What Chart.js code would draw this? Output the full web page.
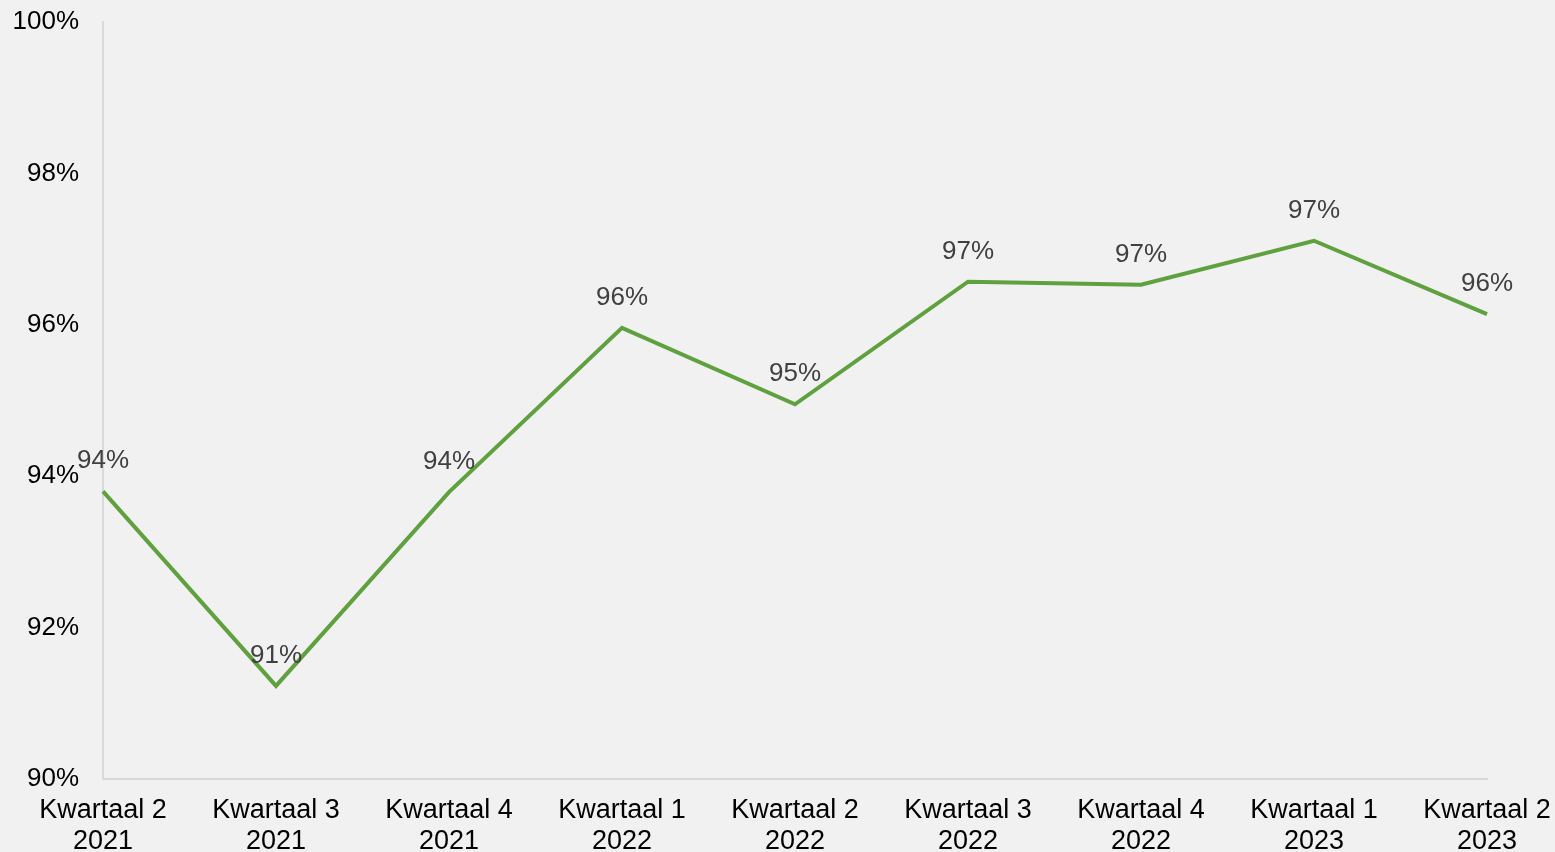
<!DOCTYPE html>
<html>
<head>
<meta charset="utf-8">
<script src="https://cdn.jsdelivr.net/npm/chart.js@4/dist/chart.umd.min.js"></script>
<style>
    html, body { margin: 0; padding: 0; background: #f1f1f1; overflow: hidden; }
    #wrap { width: 1555px; height: 852px; }
</style>
</head>
<body>
<div id="wrap"><canvas id="Chart_Kwartaal" width="1555" height="852"></canvas></div>
<script>
// data van de grafiek
var kwartalen = ['Kwartaal 2', 'Kwartaal 3', 'Kwartaal 4', 'Kwartaal 1', 'Kwartaal 2', 'Kwartaal 3', 'Kwartaal 4', 'Kwartaal 1', 'Kwartaal 2'];
var jaren = ['2021', '2021', '2021', '2022', '2022', '2022', '2022', '2023', '2023'];
var percentages = [93.8, 91.23, 93.79, 95.96, 94.95, 96.57, 96.53, 97.11, 96.14];
var yMin = 90, yMax = 100, yStap = 2;

var labels = kwartalen.map(function (k, i) {
    return [k, jaren[i]];
});

// plugin: achtergrond
const bgPlugin = {
    id: 'achtergrond',
    beforeDraw: (chart) => {
        const ctx = chart.ctx;
        ctx.save();
        ctx.globalCompositeOperation = 'destination-over';
        ctx.fillStyle = '#f1f1f1';
        ctx.fillRect(0, 0, chart.width, chart.height);
        ctx.restore();
    }
};

// plugin: waardes boven de punten
const labelPlugin = {
    id: 'waardelabels',
    afterDatasetsDraw: (chart) => {
        const ctx = chart.ctx;
        const meta = chart.getDatasetMeta(0);
        ctx.save();
        ctx.font = '26px "Liberation Sans", Arial, sans-serif';
        ctx.fillStyle = '#404040';
        ctx.textAlign = 'center';
        ctx.textBaseline = 'alphabetic';
        meta.data.forEach(function (pt, i) {
            ctx.fillText(Math.round(percentages[i]) + '%', pt.x, pt.y - 23);
        });
        ctx.restore();
    }
};

var ctx1 = document.getElementById('Chart_Kwartaal');
var chart = new Chart(ctx1, {
    type: 'line',
    data: {
        labels: labels,
        datasets: [{
            data: percentages,
            borderColor: '#5fa03f',
            borderWidth: 4,
            pointRadius: 0,
            tension: 0,
            fill: false
        }]
    },
    options: {
        responsive: false,
        animation: false,
        layout: {
            padding: { left: 0, right: 68, top: 22, bottom: 0 }
        },
        plugins: {
            legend: { display: false },
            tooltip: { enabled: false }
        },
        scales: {
            x: {
                offset: false,
                grid: { display: false, drawTicks: false },
                border: { display: true, color: '#d9d9d9', width: 2 },
                ticks: {
                    color: '#000',
                    padding: 16,
                    maxRotation: 0,
                    autoSkip: false,
                    font: { family: '"Liberation Sans", Arial, sans-serif', size: 27, lineHeight: 1.15 }
                },
                afterFit: function (scale) {
                    scale.height = 73;
                    scale.paddingLeft = 0;
                    scale.paddingRight = 0;
                }
            },
            y: {
                min: yMin,
                max: yMax,
                grid: { display: false, drawTicks: false },
                border: { display: true, color: '#d9d9d9', width: 2 },
                ticks: {
                    stepSize: yStap,
                    color: '#000',
                    padding: 24,
                    font: { family: '"Liberation Sans", Arial, sans-serif', size: 26 },
                    callback: function (v) { return v + '%'; }
                },
                afterFit: function (scale) {
                    scale.width = 103;
                    scale.paddingTop = 0;
                    scale.paddingBottom = 0;
                }
            }
        }
    },
    plugins: [bgPlugin, labelPlugin]
});
</script>
</body>
</html>
